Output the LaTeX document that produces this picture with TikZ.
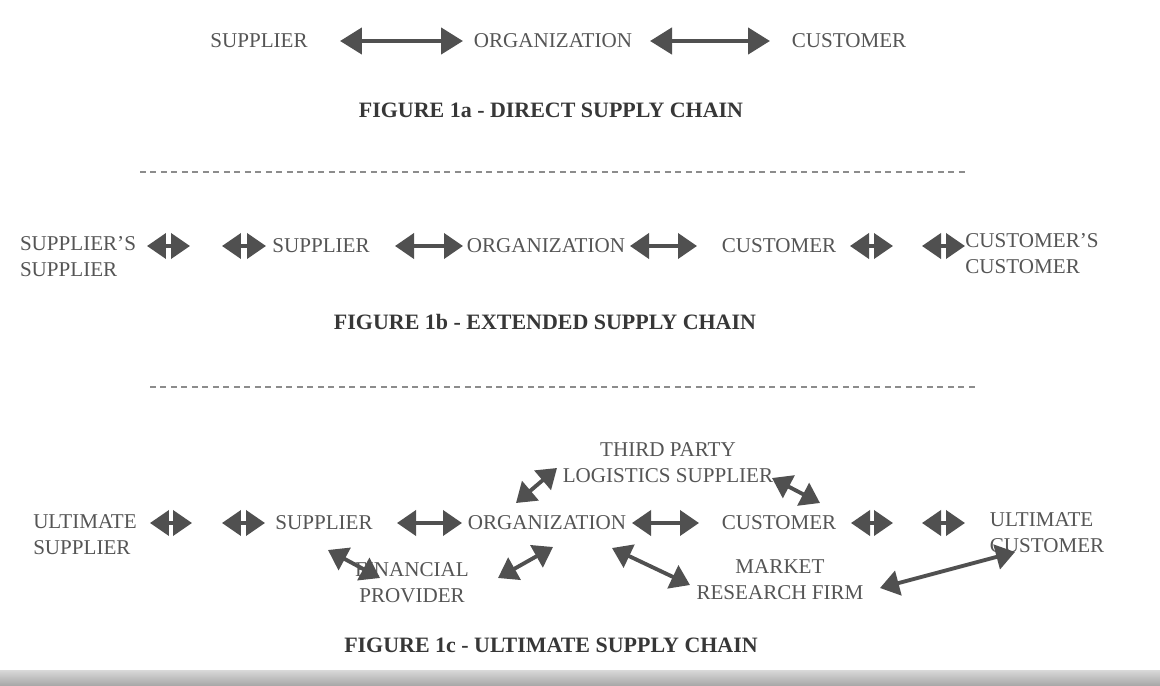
\documentclass[tikz,border=0pt]{standalone}
\usepackage{fontspec}
\setmainfont{Liberation Serif}
\usetikzlibrary{calc}
\usetikzlibrary{arrows.meta}

\definecolor{txtgray}{RGB}{85,85,85}
\definecolor{capgray}{RGB}{55,55,55}
\definecolor{arrgray}{RGB}{80,80,80}

\tikzset{
  lbl/.style={font=\fontsize{12}{14.7}\selectfont, text=txtgray, inner sep=0pt, align=center},
  figcap/.style={font=\fontsize{12.5}{14}\selectfont\bfseries, text=capgray, inner sep=0pt},
  link/.style={draw=arrgray, line width=2.6pt, {Triangle[length=0.44cm,width=0.52cm]}-{Triangle[length=0.44cm,width=0.52cm]}},
  linkb/.style={draw=arrgray, line width=2.2pt, {Triangle[length=0.38cm,width=0.5cm]}-{Triangle[length=0.38cm,width=0.5cm]}},
  sepline/.style={draw=gray!90, line width=0.8pt, dash pattern=on 0.12cm off 0.09cm}
}

\begin{document}
\begin{tikzpicture}[x=0.02cm, y=-0.02cm]
\useasboundingbox (0,0) rectangle (1160,686);
\fill[white] (0,0) rectangle (1160,686);
\shade[top color=gray!30, bottom color=gray!70] (0,670) rectangle (1160,686);

% figure 1a
\node[lbl] (sup1) at (259,41) {SUPPLIER};
\node[lbl] (org1) at (553,41) {ORGANIZATION};
\node[lbl] (cus1) at (849,41) {CUSTOMER};
\draw[link] ($(sup1)+(81,0)$) -- ($(org1)+(-90,0)$);
\draw[link] ($(org1)+(97,0)$) -- ($(cus1)+(-79,0)$);
\node[figcap] (capa) at (551,110) {FIGURE 1a - DIRECT SUPPLY CHAIN};

\draw[sepline] (140,172) -- (965,172);

% figure 1b
\node[lbl, align=left] (ssup) at (78,257) {SUPPLIER'S\\SUPPLIER};
\node[lbl] (sup2) at (321,246) {SUPPLIER};
\node[lbl] (org2) at (546,246) {ORGANIZATION};
\node[lbl] (cus2) at (779,246) {CUSTOMER};
\node[lbl, align=left] (ccus) at (1032,254) {CUSTOMER'S\\CUSTOMER};
\draw[linkb] ($(ssup)+(69,-11)$) -- ($(ssup)+(112,-11)$);
\draw[linkb] ($(sup2)+(-99,0)$) -- ($(sup2)+(-55,0)$);
\draw[linkb] ($(sup2)+(74,0)$) -- ($(org2)+(-83,0)$);
\draw[linkb] ($(org2)+(84,0)$) -- ($(cus2)+(-82,0)$);
\draw[linkb] ($(cus2)+(71,0)$) -- ($(cus2)+(114,0)$);
\draw[linkb] ($(ccus)+(-110,-8)$) -- ($(ccus)+(-67,-8)$);
\node[figcap] (capb) at (545,322) {FIGURE 1b - EXTENDED SUPPLY CHAIN};

\draw[sepline] (150,387) -- (975,387);

% figure 1c
\node[lbl] (tpl) at (668,463) {THIRD PARTY\\LOGISTICS SUPPLIER};
\node[lbl, align=left] (usup) at (85,535) {ULTIMATE\\SUPPLIER};
\node[lbl] (sup3) at (324,523) {SUPPLIER};
\node[lbl] (org3) at (547,523) {ORGANIZATION};
\node[lbl] (cus3) at (779,523) {CUSTOMER};
\node[lbl, align=left] (ucus) at (1047,533) {ULTIMATE\\CUSTOMER};
\node[lbl] (fin) at (412,583) {FINANCIAL\\PROVIDER};
\node[lbl] (mkt) at (780,580) {MARKET\\RESEARCH FIRM};
\draw[linkb] ($(usup)+(65,-12)$) -- ($(usup)+(107,-12)$);
\draw[linkb] ($(sup3)+(-102,0)$) -- ($(sup3)+(-59,0)$);
\draw[linkb] ($(sup3)+(73,0)$) -- ($(org3)+(-85,0)$);
\draw[linkb] ($(org3)+(85,0)$) -- ($(cus3)+(-80,0)$);
\draw[linkb] ($(cus3)+(72,0)$) -- ($(cus3)+(114,0)$);
\draw[linkb] ($(ucus)+(-125,-10)$) -- ($(ucus)+(-82,-10)$);
\draw[linkb] ($(org3)+(-31,-20)$) -- ($(tpl)+(-111,5)$);
\draw[linkb] ($(tpl)+(104,15)$) -- ($(cus3)+(41,-20)$);
\draw[linkb] ($(sup3)+(4,27)$) -- ($(fin)+(-32,-5)$);
\draw[linkb] ($(fin)+(86,-5)$) -- ($(org3)+(6,24)$);
\draw[linkb] ($(org3)+(65,25)$) -- ($(mkt)+(-90,5)$);
\draw[linkb] ($(mkt)+(100,8)$) -- ($(ucus)+(-32,19)$);
\node[figcap] (capc) at (551,645) {FIGURE 1c - ULTIMATE SUPPLY CHAIN};

\end{tikzpicture}
\end{document}
